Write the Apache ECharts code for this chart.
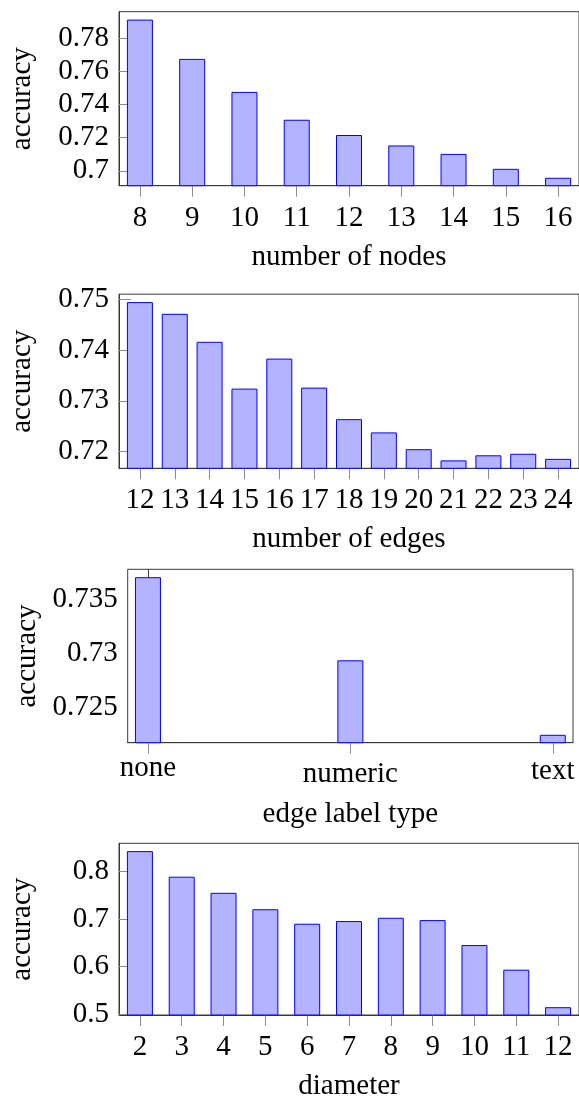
<!DOCTYPE html>
<html><head><meta charset="utf-8">
<script src="https://cdn.jsdelivr.net/npm/echarts@6/dist/echarts.min.js"></script>
<style>html,body{margin:0;padding:0;background:#fff}#c{width:579px;height:1102px}</style>
</head><body><div id="c"></div>
<script>
// ---- data ----
const nodesCats = [8, 9, 10, 11, 12, 13, 14, 15, 16];
const nodesAcc = [0.7912, 0.7675, 0.7476, 0.7308, 0.7216, 0.7153, 0.7102, 0.7012, 0.6958];
const nodesTicks = [0.7, 0.72, 0.74, 0.76, 0.78];

const edgesCats = [12, 13, 14, 15, 16, 17, 18, 19, 20, 21, 22, 23, 24];
const edgesAcc = [0.7494, 0.7471, 0.7416, 0.7324, 0.7383, 0.7326, 0.7264, 0.7238, 0.7205, 0.7183, 0.7193, 0.7196, 0.7186];
const edgesTicks = [0.72, 0.73, 0.74, 0.75];

const labelTypeCats = ['none', 'numeric', 'text'];
const labelTypeAcc = [0.7371, 0.7294, 0.7225];
const labelTypeTicks = [0.725, 0.73, 0.735];

const diamCats = [2, 3, 4, 5, 6, 7, 8, 9, 10, 11, 12];
const diamAcc = [0.8428, 0.7890, 0.7552, 0.7207, 0.6903, 0.6959, 0.7028, 0.6979, 0.6455, 0.5938, 0.5150];
const diamTicks = [0.5, 0.6, 0.7, 0.8];

const xTitles = ['number of nodes', 'number of edges', 'edge label type', 'diameter'];
const yTitle = 'accuracy';

// ---- layout ----
const FONT = 'Liberation Serif';
const FS = 29;
const layouts = [
  {left: 113.3, top: 11.7, width: 468.6, height: 174},
  {left: 113.3, top: 294.2, width: 468.6, height: 174.1},
  {left: 127.7, top: 569.3, width: 445.3, height: 173.4},
  {left: 98.7, top: 843.3, width: 483.8, height: 174}
];

const panels = [
  {cats: nodesCats, acc: nodesAcc, ticks: nodesTicks},
  {cats: edgesCats, acc: edgesAcc, ticks: edgesTicks},
  {cats: labelTypeCats, acc: labelTypeAcc, ticks: labelTypeTicks},
  {cats: diamCats, acc: diamAcc, ticks: diamTicks}
];

const grid = [], xAxis = [], yAxis = [], series = [];
panels.forEach((p, i) => {
  const isText = typeof p.cats[0] === 'string';
  const xs = p.cats.map((c, k) => isText ? k : c);
  const x0 = xs[0], x1 = xs[xs.length - 1];
  const xPad = 0.05 * (x1 - x0);
  const lo = Math.min(...p.acc), hi = Math.max(...p.acc);
  const yPad = 0.05 * (hi - lo);
  grid.push(Object.assign({show: true, borderColor: '#3a3a3a', borderWidth: 1, backgroundColor: 'transparent', containLabel: false}, layouts[i]));
  const labelStyle = {color: '#000', fontFamily: FONT, fontSize: FS};
  xAxis.push({
    gridIndex: i, type: 'value', min: x0 - xPad, max: x1 + xPad,
    axisLine: {show: true, onZero: false, lineStyle: {color: '#3a3a3a', width: 1}},
    axisTick: {show: true, customValues: xs, length: 11, inside: false, lineStyle: {color: '#8c8c8c', width: 1}},
    axisLabel: Object.assign({
      customValues: xs, margin: isText ? 11 : 18,
      formatter: isText ? (v) => {
        const k = Math.round(v);
        const key = ['n', 'm', 't'][k];
        return '{' + key + '|' + p.cats[k] + '}';
      } : (v) => String(v),
      rich: isText ? {
        n: {fontFamily: FONT, fontSize: FS, color: '#000', padding: [0, 0, 0, 0]},
        m: {fontFamily: FONT, fontSize: FS, color: '#000', padding: [6, 0, 0, 0]},
        t: {fontFamily: FONT, fontSize: FS, color: '#000', padding: [3, 0, 0, 0]}
      } : undefined
    }, labelStyle),
    splitLine: {show: false},
    name: xTitles[i], nameLocation: 'middle', nameGap: 57,
    nameTextStyle: labelStyle
  });
  yAxis.push({
    gridIndex: i, type: 'value', min: lo - yPad, max: hi + yPad,
    axisLine: {show: true, lineStyle: {color: '#3a3a3a', width: 1}},
    axisTick: {show: true, customValues: p.ticks, length: 12, inside: true, lineStyle: {color: '#8c8c8c', width: 1}},
    axisLabel: Object.assign({customValues: p.ticks, margin: 10, formatter: (v) => String(+v.toFixed(4))}, labelStyle),
    splitLine: {show: false},
    name: yTitle, nameLocation: 'middle', nameGap: 82,
    nameTextStyle: labelStyle
  });
  series.push({
    type: 'bar', xAxisIndex: i, yAxisIndex: i,
    data: p.acc.map((v, k) => [xs[k], v]),
    barWidth: 26,
    itemStyle: {color: '#b3b3ff', borderColor: '#0000ff', borderWidth: 1},
    silent: true, animation: false
  });
});

const chart = echarts.init(document.getElementById('c'), null, {renderer: 'canvas'});
chart.setOption({animation: false, grid, xAxis, yAxis, series});
</script>
</body></html>
